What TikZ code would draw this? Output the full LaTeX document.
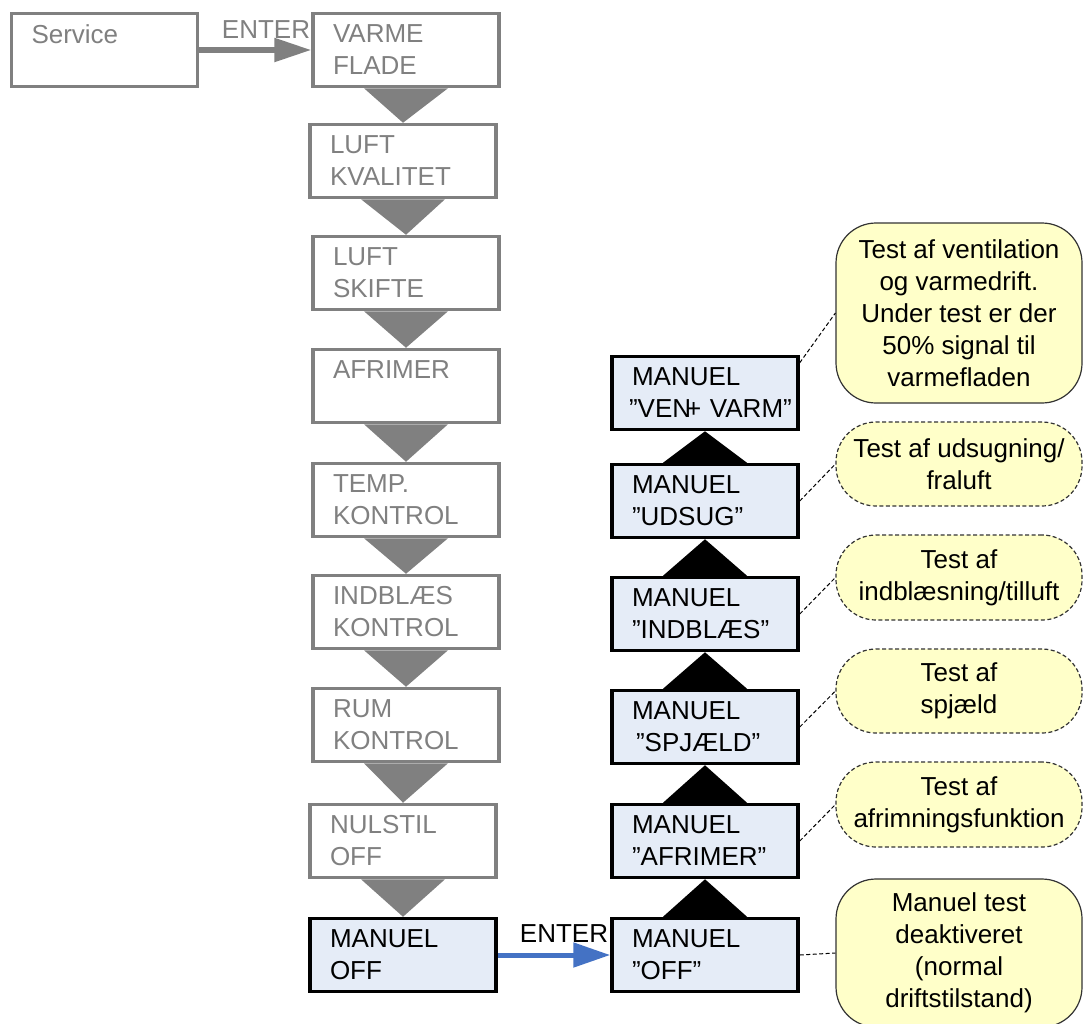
\documentclass[tikz,border=0pt]{standalone}
\usepackage{fontspec}
\setmainfont{Liberation Sans}
\usetikzlibrary{arrows.meta}
\definecolor{menugray}{RGB}{128,128,128}
\definecolor{manblue}{RGB}{229,236,247}
\definecolor{notefill}{RGB}{255,255,201}
\definecolor{enterblue}{RGB}{68,114,196}
\hfuzz=40pt

\begin{document}
\begin{tikzpicture}[x=1pt, y=-1pt,
	every node/.style={font=\fontsize{26}{32}\selectfont},
	menu/.style={draw=menugray, line width=3.5pt, text=menugray, minimum width=186pt, minimum height=73pt, inner xsep=20pt, text width=146pt, align=left},
	manual/.style={menu, draw=black, fill=manblue, text=black},
	note/.style={draw=black!80, line width=1.2pt, fill=notefill, rounded corners=40pt, minimum width=246pt, align=center},
	dnote/.style={note, dash pattern=on 4pt off 2.5pt},
	link/.style={line width=1pt, dash pattern=on 4pt off 2.5pt}]
				\useasboundingbox (0,0) rectangle (1083,1023);
				% service menu
				\node[menu] (SV) at (104.5,50) {Service\\\mbox{}};
				\node[menu] (VF) at (406,50) {VARME\\FLADE};
				\node[menu] (LK) at (403,161) {LUFT\\KVALITET};
				\node[menu] (LS) at (406,273) {LUFT\\SKIFTE};
				\node[menu] (AF) at (406,386) {AFRIMER\\\mbox{}};
				\node[menu] (TK) at (406,500) {TEMP.\\KONTROL};
				\node[menu] (IK) at (406,612) {INDBLÆS\\KONTROL};
				\node[menu] (RK) at (406,725) {RUM\\KONTROL};
				\node[menu] (NO) at (403,841) {NULSTIL\\OFF};
				\node[manual] (MO) at (403,955) {MANUEL\\OFF};
				% manual test
				\node[manual] (MOF) at (705,955) {MANUEL\\”OFF”};
				\node[manual] (MAF) at (705,841) {MANUEL\\”AFRIMER”};
				\node[manual] (MSP) at (705,727) {MANUEL\\\hspace*{4pt}”SPJÆLD”};
				\node[manual] (MIN) at (705,614) {MANUEL\\”INDBLÆS”};
				\node[manual] (MUD) at (705,501) {MANUEL\\”UDSUG”};
				\node[manual] (MVV) at (705,393) {MANUEL\\\hspace*{-3pt}\mbox{”VEN\hspace{-5pt}+ VARM”}};
				% notes
				\node[note, minimum height=180pt] (NVV) at (959,313) {Test af ventilation\\og varmedrift.\\Under test er der\\50\% signal til\\varmefladen};
				\node[dnote, minimum height=84pt] (NUD) at (959,464) {Test af udsugning/\\fraluft};
				\node[dnote, minimum height=85pt] (NIN) at (959,577.5) {Test af\\indblæsning/tilluft};
				\node[dnote, minimum height=84pt] (NSP) at (959,691) {Test af\\spjæld};
				\node[dnote, minimum height=85pt] (NAF) at (959,804.5) {Test af\\afrimningsfunktion};
				\node[note, minimum height=148pt] (NOF) at (959,953) {Manuel test\\deaktiveret\\(normal\\driftstilstand)};
				% arrows
				\draw[menugray, line width=5.5pt, -{Triangle[length=37pt,width=23pt]}] (SV.east) -- (VF.west);
				\node[text=menugray] (E1) at (266,30) {ENTER};
				\draw[enterblue, line width=5pt, -{Triangle[length=37pt,width=24pt]}] (MO.east) -- (MOF.west);
				\node (E2) at (564,934) {ENTER};
				\fill[menugray] ([xshift=-42pt]VF.south) -- ([xshift=42pt]VF.south) -- (LK.north) -- cycle;
				\fill[menugray] ([xshift=-42pt]LK.south) -- ([xshift=42pt]LK.south) -- (LS.north) -- cycle;
				\fill[menugray] ([xshift=-42pt]LS.south) -- ([xshift=42pt]LS.south) -- (AF.north) -- cycle;
				\fill[menugray] ([xshift=-42pt]AF.south) -- ([xshift=42pt]AF.south) -- (TK.north) -- cycle;
				\fill[menugray] ([xshift=-42pt]TK.south) -- ([xshift=42pt]TK.south) -- (IK.north) -- cycle;
				\fill[menugray] ([xshift=-42pt]IK.south) -- ([xshift=42pt]IK.south) -- (RK.north) -- cycle;
				\fill[menugray] ([xshift=-42pt]RK.south) -- ([xshift=42pt]RK.south) -- (NO.north) -- cycle;
				\fill[menugray] ([xshift=-42pt]NO.south) -- ([xshift=42pt]NO.south) -- (MO.north) -- cycle;
				\fill ([xshift=-42pt]MOF.north) -- ([xshift=42pt]MOF.north) -- (MAF.south) -- cycle;
				\fill ([xshift=-42pt]MAF.north) -- ([xshift=42pt]MAF.north) -- (MSP.south) -- cycle;
				\fill ([xshift=-42pt]MSP.north) -- ([xshift=42pt]MSP.north) -- (MIN.south) -- cycle;
				\fill ([xshift=-42pt]MIN.north) -- ([xshift=42pt]MIN.north) -- (MUD.south) -- cycle;
				\fill ([xshift=-42pt]MUD.north) -- ([xshift=42pt]MUD.north) -- (MVV.south) -- cycle;
				\draw[link] ([yshift=-8pt]MVV.north east) -- (NVV.west);
				\draw[link] (MUD.east) -- (NUD.west);
				\draw[link] (MIN.east) -- (NIN.west);
				\draw[link] (MSP.east) -- (NSP.west);
				\draw[link] (MAF.east) -- (NAF.west);
				\draw[link] (MOF.east) -- (NOF.west);
			\end{tikzpicture}
\end{document}
